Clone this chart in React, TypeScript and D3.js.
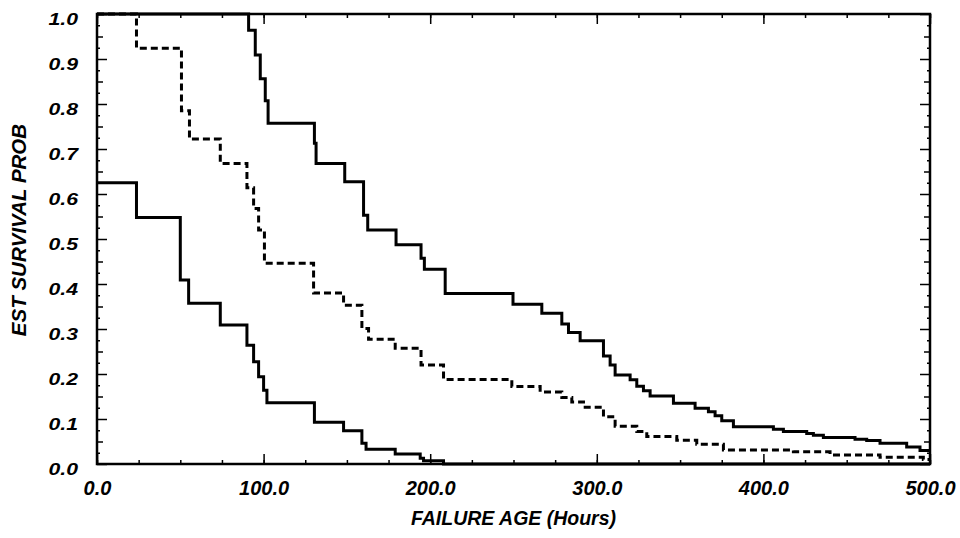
import React, { useEffect, useRef } from "react";
import * as d3 from "d3";

// Step times (hours) and estimated survival after each step.
// Lower solid curve
const lowerTimes = [0, 23.7, 50, 55, 74, 90, 94, 97, 100, 102, 130.5, 148, 159, 161.5, 179, 194, 196, 208, 500];
const lowerSurv = [0.625, 0.548, 0.409, 0.357, 0.309, 0.264, 0.227, 0.194, 0.164, 0.136, 0.093, 0.074, 0.046, 0.033, 0.022, 0.013, 0.007, 0, 0];

// Middle dashed curve
const middleTimes = [0, 23.7, 50.7, 55.5, 74, 90, 94, 97, 100.5, 130, 148, 159, 163, 179, 194.5, 208, 249, 266, 279, 285, 292, 304, 311, 324, 330, 348, 360, 376, 418, 440, 470, 496, 500];
const middleSurv = [1, 0.924, 0.785, 0.722, 0.668, 0.614, 0.568, 0.52, 0.446, 0.38, 0.353, 0.301, 0.277, 0.257, 0.22, 0.188, 0.172, 0.16, 0.148, 0.138, 0.126, 0.105, 0.084, 0.072, 0.061, 0.053, 0.044, 0.031, 0.027, 0.02, 0.015, 0.01, 0.01];

// Upper solid curve
const upperTimes = [0, 91, 95, 98, 101, 102.7, 130.5, 131.5, 148.7, 160, 162.5, 179.5, 194.5, 196.5, 209, 249.7, 267, 279, 283, 290, 304, 308, 311, 320, 324, 328, 332, 346, 359, 367, 371, 375, 382, 406, 412, 426, 430, 436, 455, 462, 470, 486, 494, 500];
const upperSurv = [1, 0.964, 0.909, 0.856, 0.807, 0.757, 0.713, 0.668, 0.627, 0.553, 0.52, 0.487, 0.457, 0.433, 0.379, 0.355, 0.335, 0.311, 0.292, 0.274, 0.24, 0.22, 0.198, 0.187, 0.173, 0.163, 0.151, 0.135, 0.124, 0.116, 0.107, 0.096, 0.083, 0.077, 0.072, 0.068, 0.064, 0.059, 0.055, 0.052, 0.046, 0.038, 0.03, 0.03];

const xTicks = [0, 100, 200, 300, 400, 500];
const yTicks = [0, 0.1, 0.2, 0.3, 0.4, 0.5, 0.6, 0.7, 0.8, 0.9, 1.0];

const FONT = "'Liberation Sans', Arial, Helvetica, sans-serif";

const SurvivalChart = () => {
  const chartRef = useRef<HTMLDivElement>(null);

  useEffect(() => {
    drawChart();
  }, []);

  const drawChart = () => {
    if (!chartRef.current) return;
    chartRef.current.innerHTML = "";

    const width = 960;
    const height = 538;
    const marginLeft = 97;
    const marginRight = 30;
    const marginTop = 14;
    const marginBottom = 74;

    const x = d3.scaleLinear().domain([0, 500]).range([marginLeft, width - marginRight]);
    const y = d3.scaleLinear().domain([0, 1]).range([height - marginBottom, marginTop]);
    const fmt = d3.format(".1f");

    const svg = d3
      .create("svg")
      .attr("width", width)
      .attr("height", height)
      .attr("viewBox", [0, 0, width, height])
      .attr("style", `position:absolute;left:0;top:0;background:#fff;font-family:${FONT};`);

    // bottom axis: labels + major ticks (pointing inward)
    svg
      .append("g")
      .attr("transform", `translate(0,${y(0)})`)
      .call(d3.axisBottom(x).tickValues(xTicks).tickSize(-10).tickPadding(17).tickFormat((d) => fmt(d as number)))
      .call((g) => g.select(".domain").remove())
      .call((g) => g.selectAll("line").attr("stroke", "#000").attr("stroke-width", 1.5))
      .call((g) =>
        g
          .selectAll("text")
          .attr("fill", "#000")
          .attr("font-size", 20)
          .attr("font-weight", "bold")
          .attr("font-style", "italic")
          .attr("font-family", FONT)
      );

    // minor ticks on bottom and top
    const xMinor = d3.range(0, 501, 25);
    svg
      .append("g")
      .attr("transform", `translate(0,${y(0)})`)
      .call(d3.axisBottom(x).tickValues(xMinor).tickSize(-4).tickFormat(() => ""))
      .call((g) => g.select(".domain").remove())
      .call((g) => g.selectAll("line").attr("stroke", "#000").attr("stroke-width", 1.5));
    svg
      .append("g")
      .attr("transform", `translate(0,${y(1)})`)
      .call(d3.axisTop(x).tickValues(xMinor).tickSize(-4).tickFormat(() => ""))
      .call((g) => g.select(".domain").remove())
      .call((g) => g.selectAll("line").attr("stroke", "#000").attr("stroke-width", 1.5));
    svg
      .append("g")
      .attr("transform", `translate(0,${y(1)})`)
      .call(d3.axisTop(x).tickValues(xTicks).tickSize(-10).tickFormat(() => ""))
      .call((g) => g.select(".domain").remove())
      .call((g) => g.selectAll("line").attr("stroke", "#000").attr("stroke-width", 1.5));

    // left axis with labels
    svg
      .append("g")
      .attr("transform", `translate(${x(0)},0)`)
      .call(d3.axisLeft(y).tickValues(yTicks).tickSize(-10).tickPadding(0).tickFormat((d) => fmt(d as number)))
      .call((g) => g.select(".domain").remove())
      .call((g) => g.selectAll("line").attr("stroke", "#000").attr("stroke-width", 1.5))
      .call((g) =>
        g
          .selectAll("text")
          .attr("fill", "#000")
          .attr("font-size", 17)
          .attr("font-weight", "bold")
          .attr("font-style", "italic")
          .attr("font-family", FONT)
          .attr("transform", "scale(1.25,1)")
          .attr("x", -19 / 1.25)
          .attr("dy", 10)
      );

    // y minor ticks, both sides
    const yMid = d3.range(0.05, 1, 0.1);
    const ySmall = d3.range(0.025, 1, 0.05);
    const yAxisTicks = (axis: any, pos: number, vals: number[], size: number) =>
      svg
        .append("g")
        .attr("transform", `translate(${pos},0)`)
        .call(axis(y).tickValues(vals).tickSize(-size).tickFormat(() => ""))
        .call((g: any) => g.select(".domain").remove())
        .call((g: any) => g.selectAll("line").attr("stroke", "#000").attr("stroke-width", 1.5));
    yAxisTicks(d3.axisLeft, x(0), yMid, 6);
    yAxisTicks(d3.axisLeft, x(0), ySmall, 3);
    yAxisTicks(d3.axisRight, x(500), yTicks, 10);
    yAxisTicks(d3.axisRight, x(500), yMid, 6);
    yAxisTicks(d3.axisRight, x(500), ySmall, 3);

    // plot frame
    svg
      .append("rect")
      .attr("x", x(0))
      .attr("y", y(1))
      .attr("width", x(500) - x(0))
      .attr("height", y(0) - y(1))
      .attr("fill", "none")
      .attr("stroke", "#000")
      .attr("stroke-width", 2.5);

    // survival step curves
    const line = d3
      .line<[number, number]>()
      .x((d) => x(d[0]))
      .y((d) => y(d[1]))
      .curve(d3.curveStepAfter);

    const curves = [
      { times: lowerTimes, surv: lowerSurv, dash: null },
      { times: middleTimes, surv: middleSurv, dash: "7,4" },
      { times: upperTimes, surv: upperSurv, dash: null },
    ];

    svg
      .append("g")
      .selectAll("path")
      .data(curves)
      .join("path")
      .attr("d", (c) => line(c.times.map((t, i) => [t, c.surv[i]] as [number, number])))
      .attr("fill", "none")
      .attr("stroke", "#000")
      .attr("stroke-width", 3)
      .attr("stroke-linejoin", "miter")
      .attr("stroke-dasharray", (c) => c.dash);

    // axis titles
    svg
      .append("text")
      .attr("x", (x(0) + x(500)) / 2)
      .attr("y", 525)
      .attr("text-anchor", "middle")
      .attr("font-size", 19.5)
      .attr("font-weight", "bold")
      .attr("font-style", "italic")
      .text("FAILURE AGE (Hours)");

    svg
      .append("text")
      .attr("transform", `translate(26,230) rotate(-90)`)
      .attr("text-anchor", "middle")
      .attr("font-size", 20.5)
      .attr("font-weight", "bold")
      .attr("font-style", "italic")
      .text("EST SURVIVAL PROB");

    chartRef.current.appendChild(svg.node()!);
  };

  return <div ref={chartRef} id="survival"></div>;
};

export default function App() {
  return <SurvivalChart />;
}
